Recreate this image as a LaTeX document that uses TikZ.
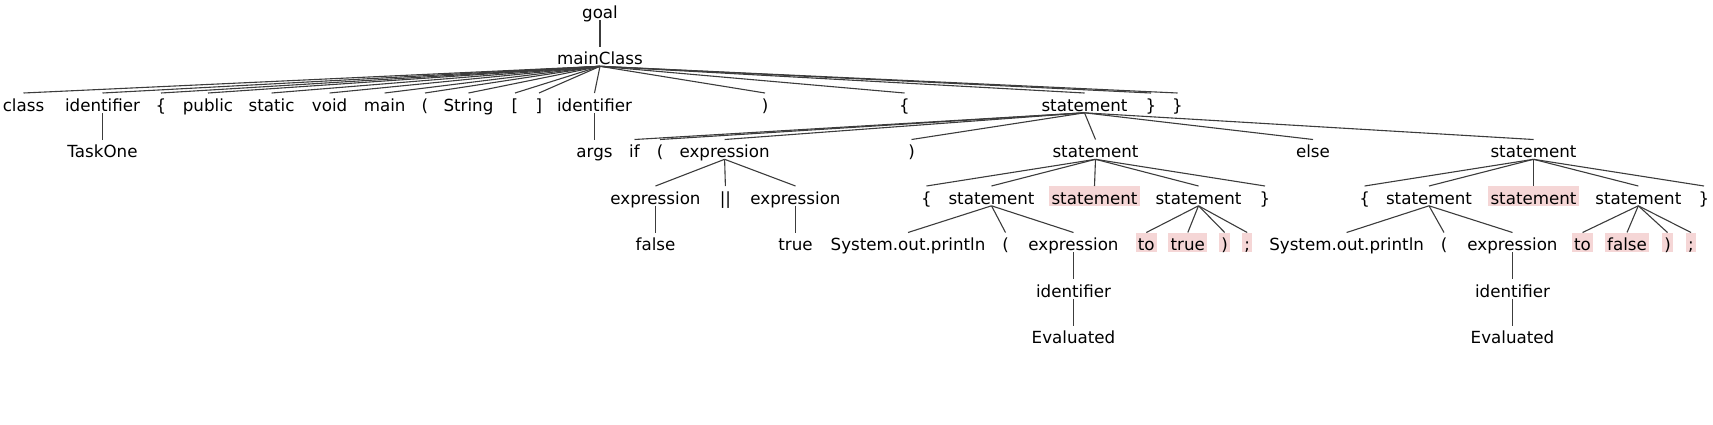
\documentclass[tikz,border=0pt]{standalone}
\usepackage{fontspec}
\setmainfont{DejaVu Sans}
\definecolor{hlpink}{RGB}{245,214,214}
\definecolor{edgegray}{RGB}{60,60,60}
\begin{document}
\begin{tikzpicture}[x=1pt,y=1pt,
  tn/.style={anchor=north,inner xsep=2.2pt,inner ysep=0pt,text height=17.8pt,text depth=1.6pt,font=\fontsize{16.7}{20}\selectfont},
  hl/.style={tn,fill=hlpink},
  edge/.style={draw=edgegray,line width=1.1pt}]
\useasboundingbox (0,0) rectangle (1713,-424);
% row 0,1
\node[tn] (goal) at (600,0) {goal};
\node[tn] (mc) at (600,-46.5) {mainClass};
% row 2
\node[tn] (c1) at (23.5,-93) {class};
\node[tn] (c2) at (102.5,-93) {identifier};
\node[tn] (c3) at (161,-93) {\{};
\node[tn] (c4) at (208,-93) {public};
\node[tn] (c5) at (271.6,-93) {static};
\node[tn] (c6) at (329.6,-93) {void};
\node[tn] (c7) at (384.7,-93) {main};
\node[tn] (c8) at (425,-93) {(};
\node[tn] (c9) at (468.5,-93) {String};
\node[tn] (c10) at (515,-93) {[};
\node[tn] (c11) at (539,-93) {]};
\node[tn] (c12) at (594.5,-93) {identifier};
\node[tn] (c13) at (765,-93) {)};
\node[tn] (c14) at (904.5,-93) {\{};
\node[tn] (st1) at (1084.5,-93) {statement};
\node[tn] (c16) at (1151,-93) {\}};
\node[tn] (c17) at (1177.5,-93) {\}};
% row 3
\node[tn] (task) at (102.5,-139.5) {TaskOne};
\node[tn] (args) at (594.5,-139.5) {args};
\node[tn] (if) at (634.5,-139.5) {if};
\node[tn] (lp1) at (660,-139.5) {(};
\node[tn] (ex1) at (724.6,-139.5) {expression};
\node[tn] (rp1) at (911.5,-139.5) {)};
\node[tn] (st2) at (1095.5,-139.5) {statement};
\node[tn] (else) at (1313,-139.5) {else};
\node[tn] (st3) at (1533.5,-139.5) {statement};
% row 4
\node[tn] (ex2) at (655.5,-186) {expression};
\node[tn] (or) at (725.4,-186) {\textbar\textbar};
\node[tn] (ex3) at (795.5,-186) {expression};
\node[tn] (lb2) at (926.5,-186) {\{};
\node[tn] (st4) at (991.5,-186) {statement};
\node[hl] (st5) at (1094.5,-186) {statement};
\node[tn] (st6) at (1198.5,-186) {statement};
\node[tn] (rb2) at (1265,-186) {\}};
\node[tn] (lb3) at (1364.6,-186) {\{};
\node[tn] (st7) at (1429,-186) {statement};
\node[hl] (st8) at (1533.5,-186) {statement};
\node[tn] (st9) at (1638.3,-186) {statement};
\node[tn] (rb3) at (1704,-186) {\}};
% row 5
\node[tn] (false1) at (655.5,-232.5) {false};
\node[tn] (true1) at (795.5,-232.5) {true};
\node[tn] (sop1) at (908,-232.5) {System.out.println};
\node[tn] (lp2) at (1005.5,-232.5) {(};
\node[tn] (ex4) at (1073.5,-232.5) {expression};
\node[hl] (to1) at (1146.3,-232.5) {to};
\node[hl] (tr1) at (1187.8,-232.5) {true};
\node[hl] (rp2) at (1224.7,-232.5) {)};
\node[hl] (sc1) at (1247.2,-232.5) {;};
\node[tn] (sop2) at (1346.6,-232.5) {System.out.println};
\node[tn] (lp3) at (1444,-232.5) {(};
\node[tn] (ex5) at (1512.5,-232.5) {expression};
\node[hl] (to2) at (1582.5,-232.5) {to};
\node[hl] (fa2) at (1627,-232.5) {false};
\node[hl] (rp3) at (1667.5,-232.5) {)};
\node[hl] (sc2) at (1691,-232.5) {;};
% row 6,7
\node[tn] (id1) at (1073.5,-279) {identifier};
\node[tn] (id2) at (1512.5,-279) {identifier};
\node[tn] (ev1) at (1073.5,-325.5) {Evaluated};
\node[tn] (ev2) at (1512.5,-325.5) {Evaluated};
% edges
\draw[edge] (goal.south) -- (mc.north);
\foreach \c in {c1,c2,c3,c4,c5,c6,c7,c8,c9,c10,c11,c12,c13,c14,st1,c16,c17}
  \draw[edge] (mc.south) -- (\c.north);
\draw[edge] (c2.south) -- (task.north);
\draw[edge] (c12.south) -- (args.north);
\foreach \c in {if,lp1,ex1,rp1,st2,else,st3}
  \draw[edge] (st1.south) -- (\c.north);
\foreach \c in {ex2,or,ex3}
  \draw[edge] (ex1.south) -- (\c.north);
\draw[edge] (ex2.south) -- (false1.north);
\draw[edge] (ex3.south) -- (true1.north);
\foreach \c in {lb2,st4,st5,st6,rb2}
  \draw[edge] (st2.south) -- (\c.north);
\foreach \c in {sop1,lp2,ex4}
  \draw[edge] (st4.south) -- (\c.north);
\draw[edge] (ex4.south) -- (id1.north);
\draw[edge] (id1.south) -- (ev1.north);
\foreach \c in {to1,tr1,rp2,sc1}
  \draw[edge] (st6.south) -- (\c.north);
\foreach \c in {lb3,st7,st8,st9,rb3}
  \draw[edge] (st3.south) -- (\c.north);
\foreach \c in {sop2,lp3,ex5}
  \draw[edge] (st7.south) -- (\c.north);
\draw[edge] (ex5.south) -- (id2.north);
\draw[edge] (id2.south) -- (ev2.north);
\foreach \c in {to2,fa2,rp3,sc2}
  \draw[edge] (st9.south) -- (\c.north);
\end{tikzpicture}
\end{document}
